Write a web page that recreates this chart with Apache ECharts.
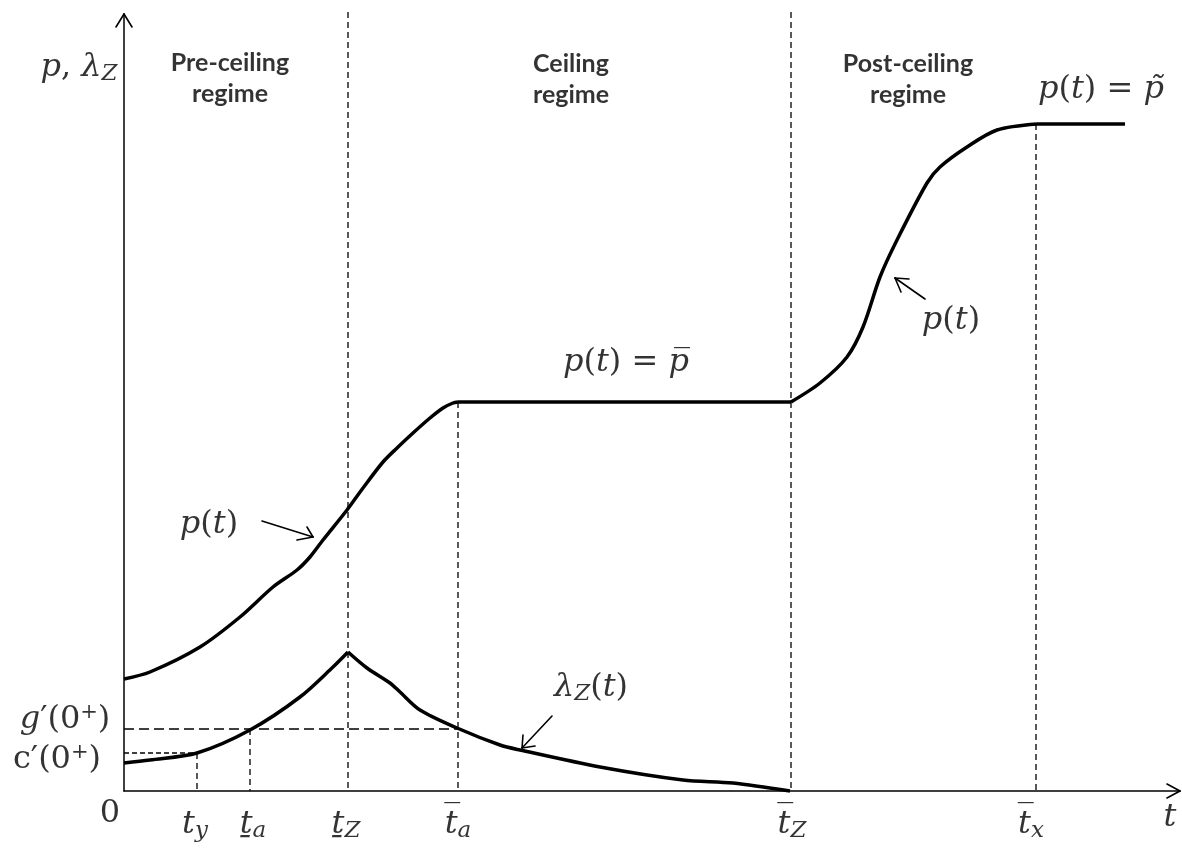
<!DOCTYPE html>
<html><head><meta charset="utf-8">
<script src="https://cdn.jsdelivr.net/npm/echarts@6/dist/echarts.min.js"></script>
<style>html,body{margin:0;padding:0;background:#fff}#c{width:1182px;height:850px}</style>
</head><body><div id="c"></div>
<script>
// ---- values (t along x, p / lambda along y; arbitrary units) ----
const pRise   = [[0,112],[26,119],[76,144],[116,174],[149,204],[173,221],[186,234],[199,251],[223,281],[239,303],[259,329],[273,343],[289,358],[306,373],[319,383],[329,388],[334,389]];
const pCeil   = [[334,389],[667,389]];
const pPost   = [[667,389],[696,408],[723,434],[739,464],[756,514],[773,551],[803,608],[816,624],[843,644],[873,661],[913,667]];
const pTilde  = [[913,667],[1001,667]];
const lamRise = [[0,28],[26,31],[73,38],[126,61],[176,94],[209,124],[224,139]];
const lamFall = [[224,139],[243,123],[266,108],[276,99],[296,81],[333,63],[376,46],[396,41],[476,24],[559,11],[609,8],[666,0]];

// reference times and levels
const tY = 73, tAlow = 126, tZlow = 224, tAbar = 334, tZbar = 667, tXbar = 912;
const gLevel = 62, cLevel = 38, topLevel = 779;

const vLines = [
  [[tY, cLevel],[tY, 0]],
  [[tAlow, gLevel],[tAlow, 0]],
  [[tZlow, topLevel],[tZlow, 0]],
  [[tAbar, 389],[tAbar, 0]],
  [[tZbar, topLevel],[tZbar, 0]],
  [[tXbar, 667],[tXbar, 0]]
];
const gLine = [[0, gLevel],[tAbar, gLevel]];
const cLine = [[0, cLevel],[tY, cLevel]];

// axes drawn as lines with open arrow heads
const axisSegs = [
  [[0,0],[1056,0]], [[0,0],[0,777]]
];
const arrowSegs = [
  [[138,270],[189,254]], [[189,254],[173,251]], [[189,254],[183,264]],   // p(t) left
  [[428,75],[398,43]],   [[398,43],[399,56]],   [[398,43],[411,45]],     // lambda_Z(t)
  [[801,492],[771,513]], [[771,513],[785,512]], [[771,513],[777,499]],   // p(t) right
  [[0,777],[-8,764]],    [[0,777],[8,764]],                               // y axis head
  [[1056,0],[1043,7]],   [[1056,0],[1043,-7]]                             // x axis head
];

// text annotations
const labelTexts = [
  '{i|p}{r|,}{i| λ}{s|Z}',
  '{b|Pre-ceiling}\n{b|regime}',
  '{b|Ceiling}\n{b|regime}',
  '{b|Post-ceiling}\n{b|regime}',
  '{i|p}{r|(}{i|t}{r|) = }{i|p\u0303}',
  '{i|p}{r|(}{i|t}{r|) = }{i|p\u0305}',
  '{i|p}{r|(}{i|t}{r|)}',
  '{i|p}{r|(}{i|t}{r|)}',
  '{i|λ}{s|Z}{r|(}{i|t}{r|)}',
  '{i|g}{r|′(0}{sup|+}{r|)}',
  '{r|c′(0}{sup|+}{r|)}',
  '{r|0}',
  '{i|t}{s|y}',
  '{i|t\u0331}{s|a}',
  '{i|t\u0331}{s|Z}',
  '{i|t\u0305}{s|a}',
  '{i|t\u0305}{s|Z}',
  '{i|t\u0305}{s|x}',
  '{i|t}'
];
const labelAnchors = [
  [-45,723],[106,713],[447,712],[784,712],[977,701],[502,428],[85,266],[827,470],[467,103],
  [-59,71],[-67,31],[-14,-23],[71,-34],[129,-34],[222,-34],[334,-34],[668,-34],[907,-34],[1046,-27]
];

const serif = 'DejaVu Serif';
const rich = {
  i: {fontFamily: serif, fontStyle: 'italic', fontSize: 32, color: '#000'},
  r: {fontFamily: serif, fontSize: 32, color: '#000'},
  s: {fontFamily: serif, fontStyle: 'italic', fontSize: 23, color: '#000', padding: [13,0,0,0]},
  sup: {fontFamily: serif, fontSize: 21, color: '#000', padding: [0,0,14,0]},
  b: {fontFamily: 'Lato', fontWeight: 'bold', fontSize: 25, lineHeight: 31, color: '#000', align: 'center'}
};

function curve(data, smooth) {
  return {type: 'line', data: data, smooth: smooth, symbol: 'none', clip: false,
          lineStyle: {color: '#000', width: 3.5}, silent: true};
}
function dashed(data, dash) {
  return {type: 'line', data: data, symbol: 'none', clip: false,
          lineStyle: {color: '#000', width: 1.3, type: dash}, silent: true};
}
function thin(data, w) {
  return {type: 'line', data: data, symbol: 'none', clip: false,
          lineStyle: {color: '#000', width: w, cap: 'round'}, silent: true};
}

const series = [];
axisSegs.forEach(a => series.push(thin(a, 1.5)));
vLines.forEach(v => series.push(dashed(v, [6,4])));
series.push(dashed(gLine, [10,5]));
series.push(dashed(cLine, [5,3]));
series.push(curve(pRise, 0.3));
series.push(curve(pCeil, false));
series.push(curve(pPost, 0.3));
series.push(curve(pTilde, false));
series.push(curve(lamRise, 0.3));
series.push(curve(lamFall, 0.3));
arrowSegs.forEach(a => series.push(thin(a, 1.6)));
series.push({
  type: 'scatter', symbolSize: 1, clip: false, silent: true,
  itemStyle: {color: 'transparent'},
  data: labelAnchors.map((p, k) => ({value: p, label: {formatter: labelTexts[k]}})),
  label: {show: true, position: 'inside', rich: rich, align: 'center', verticalAlign: 'middle'}
});

const chart = echarts.init(document.getElementById('c'), null, {renderer: 'canvas'});
chart.setOption({
  animation: false,
  backgroundColor: '#fff',
  grid: {left: 104, right: 0, top: 4, bottom: 39},
  xAxis: {type: 'value', min: -20, max: 1058, axisLine: {show: false},
          axisTick: {show: false}, axisLabel: {show: false}, splitLine: {show: false}},
  yAxis: {type: 'value', min: -20, max: 787, axisLine: {show: false},
          axisTick: {show: false}, axisLabel: {show: false}, splitLine: {show: false}},
  series: series
});
</script>
</body></html>
